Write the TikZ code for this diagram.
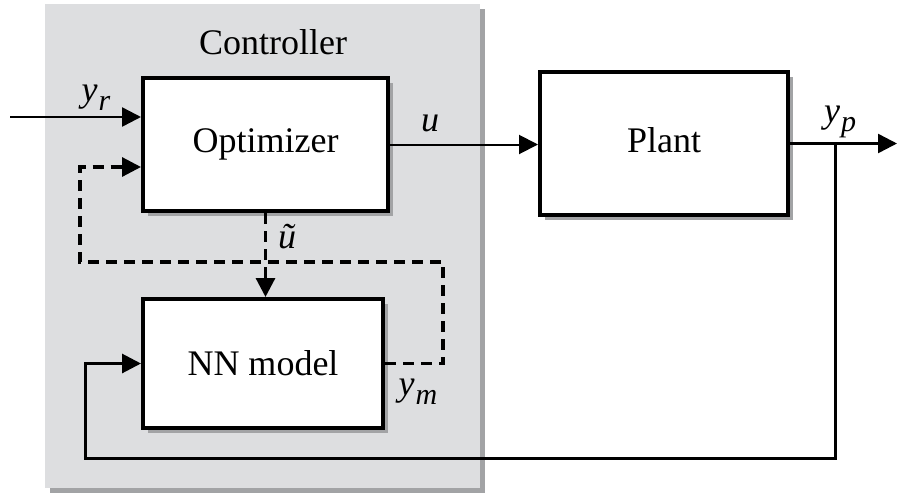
\documentclass[tikz,border=0pt]{standalone}
\usepackage{fontspec}
\setmainfont{Liberation Serif}
\usetikzlibrary{arrows.meta,calc,positioning,shadows}
\definecolor{PanelGray}{HTML}{DDDEE0}
\definecolor{ShadeGray}{HTML}{A2A3A5}
\newcommand{\sig}[2]{\textit{#1}\kern1pt\raisebox{-0.25em}{\fontsize{30}{31}\selectfont\textit{#2}}}

\begin{document}
\begin{tikzpicture}[x=1pt,y=-1pt,
    >={Triangle[length=19pt,width=19pt]},
    font=\fontsize{36}{40}\selectfont,
    boxshadow/.style={drop shadow={shadow xshift=5pt,shadow yshift=-5pt,fill=ShadeGray,opacity=1}},
    block/.style={draw,line width=4pt,fill=white,inner sep=0pt,boxshadow},
    dashes/.style={line width=3.2pt,dash pattern=on 11pt off 7pt}]
  \useasboundingbox (0,0) rectangle (897,493);
  % controller panel and blocks
  \node[fill=PanelGray,inner sep=0pt,minimum width=435pt,minimum height=484pt,boxshadow] (ctrl) at (262.5,246) {};
  \node (ctrltitle) at (273,42) {Controller};
  \node[block,minimum width=245pt,minimum height=133pt] (opt) at (265.5,144.5) {\raisebox{-2pt}{Optimizer}};
  \node[block,minimum width=240pt,minimum height=129pt] (nn) at (263,363.5) {\raisebox{-3pt}{NN model}};
  \node[block,minimum width=248pt,minimum height=143pt] (plant) at (664,143.5) {\raisebox{6pt}{Plant}};
  \coordinate (in) at (10,117);
  \coordinate (out) at (897,143.5);
  \coordinate (tap) at (835,143.5);
  \coordinate (mr) at (443,262);
  \coordinate (ml) at (80,262);
  \coordinate (bot) at (85,458);
  % signals
  \draw[->,line width=2.5pt] (in) -- (in -| opt.west);
  \draw[->,line width=2pt] (opt.east) -- (opt.east -| plant.west);
  \draw[->,line width=2.5pt] (plant.east) -- (out);
  \draw[->,line width=3pt] (tap) |- (bot) |- (nn.west);
  \draw[->,dashes] (opt.south) -- (opt.south |- nn.north);
  \draw[->,dashes] (nn.east) -| (mr) -- (ml) |- ($(opt.west)+(0,22.5)$);
  % labels
  \node (yr) at (96,98) {\sig{y}{r}};
  \node (ulab) at (430,123) {\textit{u}};
  \node (yp) at (840,122) {\sig{y}{p}};
  \node (ut) at (287,237) {\textit{\~{u}}};
  \node (ym) at (418,392) {\sig{y}{m}};
\end{tikzpicture}
\end{document}
